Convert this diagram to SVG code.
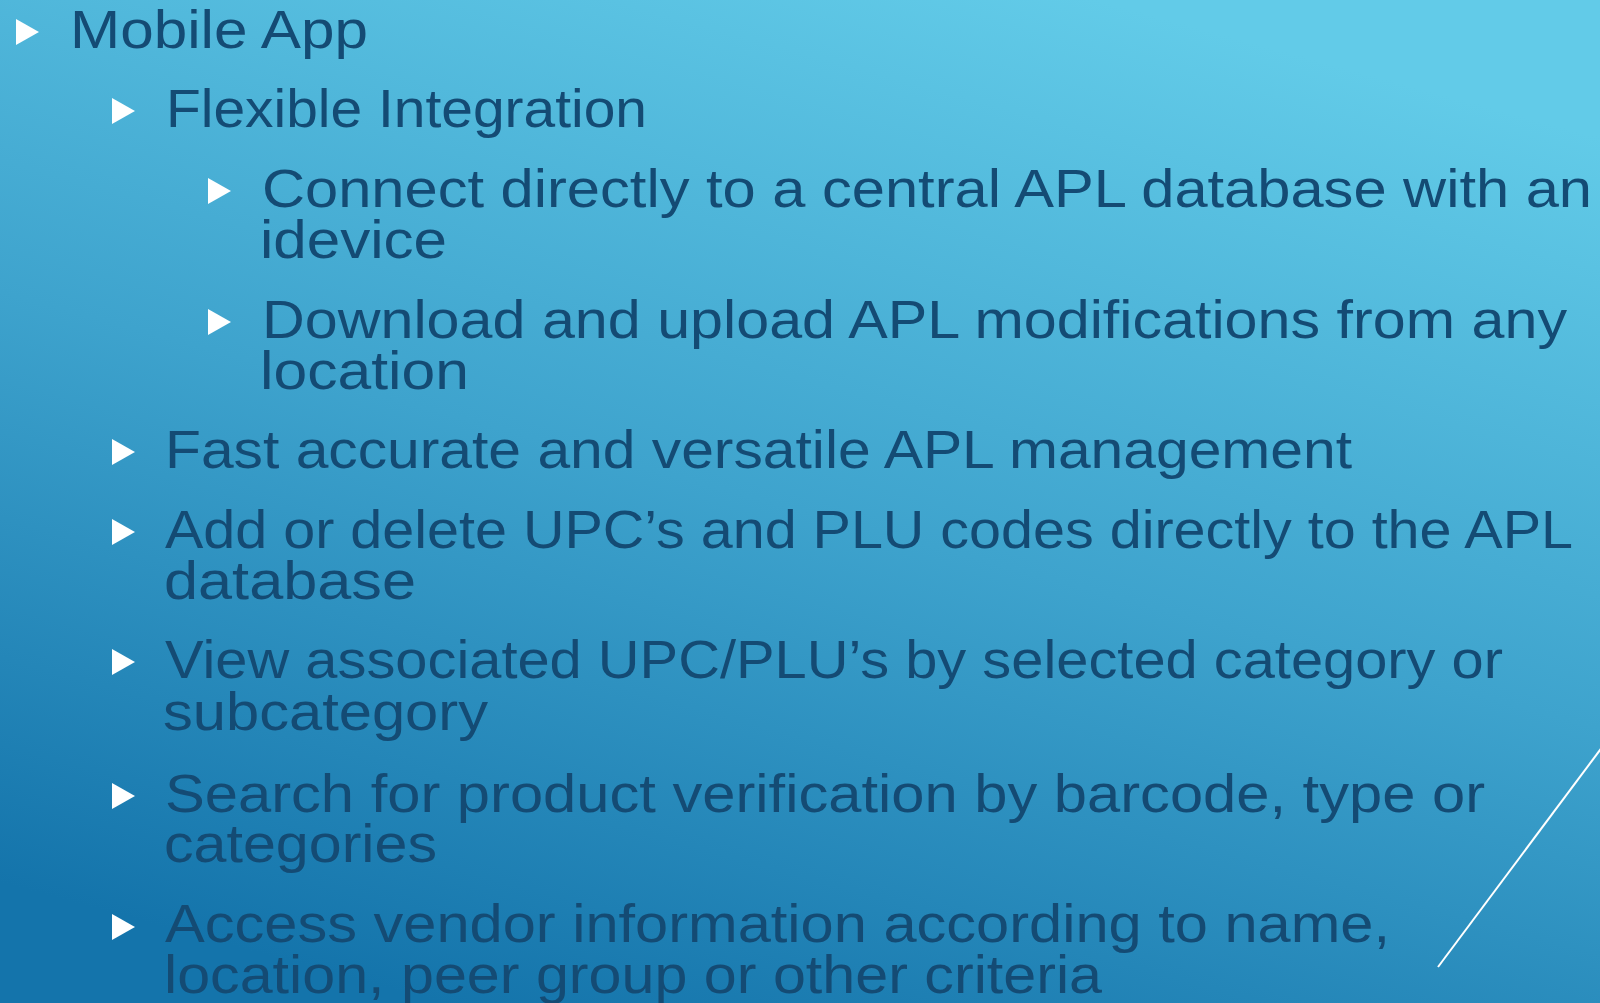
<svg xmlns="http://www.w3.org/2000/svg" width="1600" height="1003" viewBox="0 0 1600 1003">
<defs>
<linearGradient id="bg" gradientUnits="userSpaceOnUse" x1="950" y1="-40" x2="650" y2="1060">
<stop offset="0" stop-color="#62cbe8"/>
<stop offset="0.5" stop-color="#3ea3cd"/>
<stop offset="1" stop-color="#1474ab"/>
</linearGradient>
<polygon id="bul" points="0,0 0,26 23,13" fill="#ffffff"/>
</defs>
<style>
.t{font-family:"Liberation Sans",Arial,sans-serif;font-size:53px;fill:#144b74;}
</style>
<rect x="0" y="0" width="1600" height="1003" fill="url(#bg)"/>
<line x1="1438" y1="967" x2="1650" y2="683" stroke="#ffffff" stroke-width="2"/>
<g id="bullets">
<use href="#bul" x="16" y="19"/>
<use href="#bul" x="112" y="98"/>
<use href="#bul" x="208" y="178"/>
<use href="#bul" x="208" y="309"/>
<use href="#bul" x="112" y="439"/>
<use href="#bul" x="112" y="519"/>
<use href="#bul" x="112" y="649"/>
<use href="#bul" x="112" y="783"/>
<use href="#bul" x="112" y="914"/>
</g>
<g id="text">
<text class="t" x="70" y="48" textLength="298" lengthAdjust="spacingAndGlyphs">Mobile App</text>
<text class="t" x="166" y="127" textLength="481" lengthAdjust="spacingAndGlyphs">Flexible Integration</text>
<text class="t" x="262" y="207" textLength="1330" lengthAdjust="spacingAndGlyphs">Connect directly to a central APL database with an</text>
<text class="t" x="260" y="258" textLength="187" lengthAdjust="spacingAndGlyphs">idevice</text>
<text class="t" x="262" y="338" textLength="1305" lengthAdjust="spacingAndGlyphs">Download and upload APL modifications from any</text>
<text class="t" x="260" y="389" textLength="209" lengthAdjust="spacingAndGlyphs">location</text>
<text class="t" x="165" y="468" textLength="1187" lengthAdjust="spacingAndGlyphs">Fast accurate and versatile APL management</text>
<text class="t" x="165" y="548" textLength="1408" lengthAdjust="spacingAndGlyphs">Add or delete UPC’s and PLU codes directly to the APL</text>
<text class="t" x="164" y="599" textLength="252" lengthAdjust="spacingAndGlyphs">database</text>
<text class="t" x="165" y="678" textLength="1338" lengthAdjust="spacingAndGlyphs">View associated UPC/PLU’s by selected category or</text>
<text class="t" x="163" y="730" textLength="325" lengthAdjust="spacingAndGlyphs">subcategory</text>
<text class="t" x="165" y="812" textLength="1320" lengthAdjust="spacingAndGlyphs">Search for product verification by barcode, type or</text>
<text class="t" x="164" y="862" textLength="273" lengthAdjust="spacingAndGlyphs">categories</text>
<text class="t" x="165" y="942" textLength="1225" lengthAdjust="spacingAndGlyphs">Access vendor information according to name,</text>
<text class="t" x="164" y="993" textLength="938" lengthAdjust="spacingAndGlyphs">location, peer group or other criteria</text>
</g>
</svg>
